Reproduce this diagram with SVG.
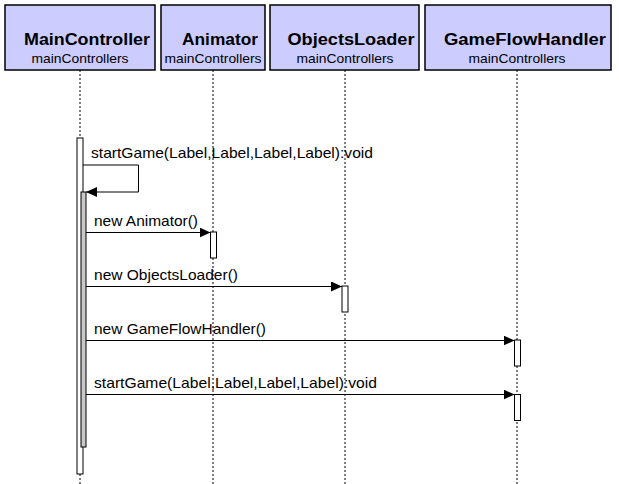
<svg xmlns="http://www.w3.org/2000/svg" width="619" height="484" viewBox="0 0 619 484">
<defs>
<style>
.box{fill:#ccccff;stroke:#000;stroke-width:1.5}
.title{font-family:"Liberation Sans",Arial,sans-serif;font-size:16px;font-weight:bold;fill:#000;text-anchor:middle}
.pkg{font-family:"Liberation Sans",Arial,sans-serif;font-size:13px;fill:#000;text-anchor:middle}
.life{stroke:#000;stroke-width:1;stroke-dasharray:2,2;fill:none}
.act{fill:#fff;stroke:#000;stroke-width:1}
.act2{fill:#c8c8c8;stroke:#000;stroke-width:1}
.msg{stroke:#000;stroke-width:1;fill:none}
.lbl{font-family:"Liberation Sans",Arial,sans-serif;font-size:15px;fill:#000}
</style>
<marker id="ah" markerWidth="12" markerHeight="10" refX="11" refY="5" orient="auto" markerUnits="userSpaceOnUse">
<path d="M0,0 L11,5 L0,10 Z" fill="#000"/>
</marker>
</defs>
<rect width="619" height="484" fill="#fff"/>
<g id="MainController">
<rect class="box" x="5" y="5" width="150" height="65"/>
<text class="title" x="87" y="45" textLength="126" lengthAdjust="spacingAndGlyphs">MainController</text>
<text class="pkg" x="80" y="63" textLength="97" lengthAdjust="spacingAndGlyphs">mainControllers</text>
<line class="life" x1="80" y1="70" x2="80" y2="484"/>
</g>
<g id="Animator">
<rect class="box" x="161" y="5" width="104" height="65"/>
<text class="title" x="220" y="45" textLength="76" lengthAdjust="spacingAndGlyphs">Animator</text>
<text class="pkg" x="213" y="63" textLength="97" lengthAdjust="spacingAndGlyphs">mainControllers</text>
<line class="life" x1="213" y1="70" x2="213" y2="484"/>
</g>
<g id="ObjectsLoader">
<rect class="box" x="270" y="5" width="149" height="65"/>
<text class="title" x="351" y="45" textLength="127" lengthAdjust="spacingAndGlyphs">ObjectsLoader</text>
<text class="pkg" x="345" y="63" textLength="97" lengthAdjust="spacingAndGlyphs">mainControllers</text>
<line class="life" x1="345" y1="70" x2="345" y2="484"/>
</g>
<g id="GameFlowHandler">
<rect class="box" x="425" y="5" width="186" height="65"/>
<text class="title" x="525" y="45" textLength="162" lengthAdjust="spacingAndGlyphs">GameFlowHandler</text>
<text class="pkg" x="517" y="63" textLength="97" lengthAdjust="spacingAndGlyphs">mainControllers</text>
<line class="life" x1="517" y1="70" x2="517" y2="484"/>
</g>
<g id="activations">
<rect class="act" x="77" y="138" width="6" height="336"/>
<rect class="act2" x="81" y="192" width="5" height="255"/>
<rect class="act" x="210.5" y="232" width="6" height="26"/>
<rect class="act" x="342" y="286" width="6" height="26"/>
<rect class="act" x="514.5" y="340" width="6" height="26"/>
<rect class="act" x="514.5" y="394.5" width="6" height="26"/>
</g>
<g id="connectors">
<polyline class="msg" points="83,165 138.5,165 138.5,192 86,192" marker-end="url(#ah)"/>
<text class="lbl" x="91" y="158" textLength="282" lengthAdjust="spacingAndGlyphs">startGame(Label,Label,Label,Label):void</text>
<line class="msg" x1="86" y1="232.5" x2="210.5" y2="232.5" marker-end="url(#ah)"/>
<text class="lbl" x="94" y="226" textLength="104" lengthAdjust="spacingAndGlyphs">new Animator()</text>
<line class="msg" x1="86" y1="286.5" x2="342" y2="286.5" marker-end="url(#ah)"/>
<text class="lbl" x="94" y="280" textLength="144" lengthAdjust="spacingAndGlyphs">new ObjectsLoader()</text>
<line class="msg" x1="86" y1="340.5" x2="514.5" y2="340.5" marker-end="url(#ah)"/>
<text class="lbl" x="94" y="334" textLength="172" lengthAdjust="spacingAndGlyphs">new GameFlowHandler()</text>
<line class="msg" x1="86" y1="394.5" x2="514.5" y2="394.5" marker-end="url(#ah)"/>
<text class="lbl" x="94" y="388" textLength="283" lengthAdjust="spacingAndGlyphs">startGame(Label,Label,Label,Label):void</text>
</g>
</svg>
